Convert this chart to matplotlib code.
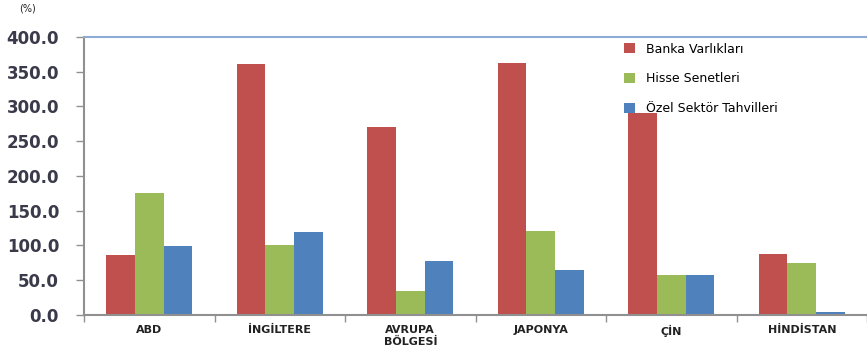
import matplotlib
matplotlib.use('Agg')
import numpy as np
import matplotlib.pyplot as plt

categories = ['ABD', 'İNGİLTERE', 'AVRUPA\nBÖLGESİ', 'JAPONYA', 'ÇİN', 'HİNDİSTAN']
banka = [86, 361, 270, 363, 290, 88]
hisse = [176, 101, 34, 120, 57, 75]
tahvil = [99, 119, 78, 65, 58, 4]
series_names = ['Banka Varlıkları', 'Hisse Senetleri', 'Özel Sektör Tahvilleri']
colors = ['#C0504D', '#9BBB59', '#4F81BD']
yticks = np.arange(0, 401, 50)

fig = plt.figure(figsize=(8.67, 3.51), dpi=100)
ax = fig.add_axes([0.097, 0.103, 0.903, 0.792])

x = np.arange(len(categories))
w = 0.22
for i, (vals, name, c) in enumerate(zip([banka, hisse, tahvil], series_names, colors)):
    ax.bar(x + (i - 1) * w, vals, width=w, color=c, label=name, zorder=2)

ax.set_xlim(-0.5, len(categories) - 0.5)
ax.set_ylim(0, 400)
ax.set_yticks(yticks)
ax.set_yticklabels(['%.1f' % v for v in yticks], fontsize=12, fontweight='bold', color='#3a3a4a')
ax.tick_params(axis='y', length=6, width=1, color='#909090', pad=12)

# category labels between boundary ticks
ax.set_xticks(x)
ax.set_xticklabels(categories, fontsize=8, fontweight='bold', color='#222222', linespacing=1.35)
ax.tick_params(axis='x', length=0, pad=7)
ax.set_xticks(np.arange(-0.5, len(categories)), minor=True)
ax.tick_params(axis='x', which='minor', length=5, width=1, color='#909090')

for s in ['left', 'bottom']:
    ax.spines[s].set_color('#909090')
    ax.spines[s].set_linewidth(1.5)
ax.spines['right'].set_visible(False)
ax.spines['top'].set_color('#8eaad6')
ax.spines['top'].set_linewidth(1.5)

ax.text(-0.083, 1.09, '(%)', transform=ax.transAxes, fontsize=7, color='#222222')

ax.legend(loc='upper left', bbox_to_anchor=(0.675, 1.02), frameon=False, fontsize=9,
          handlelength=0.9, handleheight=0.9, labelspacing=1.35, handletextpad=0.9)

fig.savefig('out.png', dpi=100)
